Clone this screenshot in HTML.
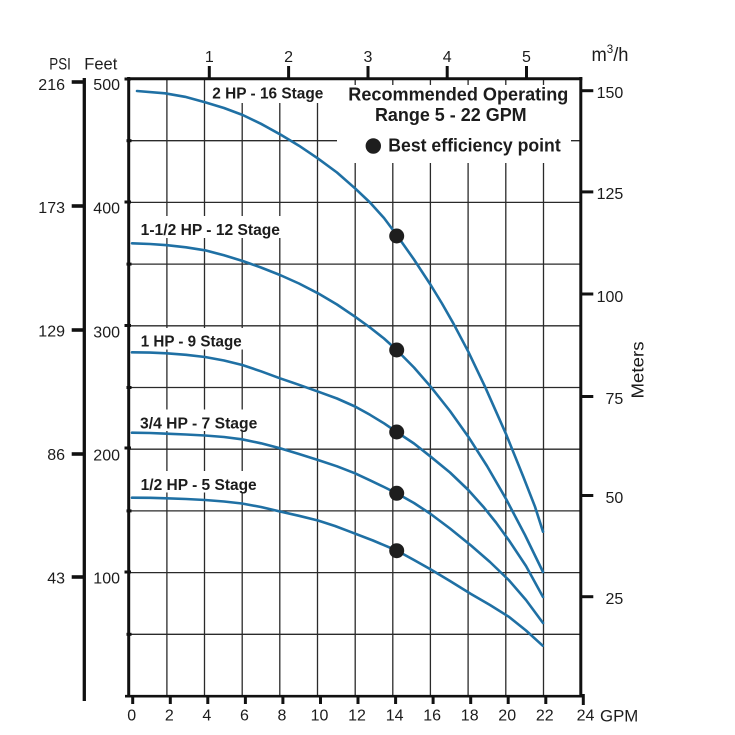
<!DOCTYPE html>
<html>
<head>
<meta charset="utf-8">
<style>
html,body{margin:0;padding:0;background:#fff;}
svg{display:block;}
text{font-family:"Liberation Sans",Arial,sans-serif;fill:#1c1c1c;}
.b{font-weight:bold;}
</style>
</head>
<body>
<svg width="735" height="735" viewBox="0 0 735 735" xmlns="http://www.w3.org/2000/svg">
<rect width="735" height="735" fill="#fff"/>

<!-- grid lines -->
<g stroke="#2a2a2a" stroke-width="1.3" fill="none">
  <!-- vertical -->
  <line x1="166.9" y1="78" x2="166.9" y2="696"/>
  <line x1="204.5" y1="78" x2="204.5" y2="696"/>
  <line x1="242.2" y1="78" x2="242.2" y2="696"/>
  <line x1="279.8" y1="78" x2="279.8" y2="696"/>
  <line x1="317.5" y1="78" x2="317.5" y2="696"/>
  <line x1="355.2" y1="78" x2="355.2" y2="696"/>
  <line x1="392.8" y1="78" x2="392.8" y2="696"/>
  <line x1="430.4" y1="78" x2="430.4" y2="696"/>
  <line x1="468.1" y1="78" x2="468.1" y2="696"/>
  <line x1="505.8" y1="78" x2="505.8" y2="696"/>
  <line x1="543.5" y1="78" x2="543.5" y2="696"/>
  <!-- horizontal -->
  <line x1="129" y1="140.7" x2="581" y2="140.7"/>
  <line x1="129" y1="202.4" x2="581" y2="202.4"/>
  <line x1="129" y1="264.1" x2="581" y2="264.1"/>
  <line x1="129" y1="325.8" x2="581" y2="325.8"/>
  <line x1="129" y1="387.5" x2="581" y2="387.5"/>
  <line x1="129" y1="449.2" x2="581" y2="449.2"/>
  <line x1="129" y1="510.9" x2="581" y2="510.9"/>
  <line x1="129" y1="572.6" x2="581" y2="572.6"/>
  <line x1="129" y1="634.3" x2="581" y2="634.3"/>
</g>

<!-- white boxes behind labels -->
<g fill="#fff">
  <rect x="337" y="85" width="234" height="78"/>
  <rect x="209" y="80" width="117" height="23"/>
  <rect x="138" y="216" width="145" height="22"/>
  <rect x="138" y="328" width="106" height="21.5"/>
  <rect x="138" y="409.5" width="122" height="21.5"/>
  <rect x="138" y="471" width="121" height="21.5"/>
</g>

<!-- axes frame -->
<g stroke="#111" fill="none">
  <line x1="128.7" y1="77" x2="128.7" y2="697.5" stroke-width="3"/>
  <line x1="127" y1="78.7" x2="582.3" y2="78.7" stroke-width="3"/>
  <line x1="580.8" y1="77" x2="580.8" y2="697.5" stroke-width="3"/>
  <line x1="125" y1="696.2" x2="582" y2="696.2" stroke-width="2.6"/>
  <!-- PSI axis line -->
  <line x1="84.3" y1="78" x2="84.3" y2="701" stroke-width="3.3"/>
</g>

<!-- left feet ticks -->
<g stroke="#111" stroke-width="3">
  <line x1="124.5" y1="79" x2="131" y2="79"/>
  <line x1="126.5" y1="140.7" x2="131.5" y2="140.7"/>
  <line x1="124.5" y1="202" x2="131" y2="202"/>
  <line x1="126.5" y1="264.1" x2="131.5" y2="264.1"/>
  <line x1="124.5" y1="325.5" x2="131" y2="325.5"/>
  <line x1="126.5" y1="387.5" x2="131.5" y2="387.5"/>
  <line x1="124.5" y1="448" x2="131" y2="448"/>
  <line x1="126.5" y1="510.9" x2="131.5" y2="510.9"/>
  <line x1="124.5" y1="572" x2="131" y2="572"/>
  <line x1="126.5" y1="634.3" x2="131.5" y2="634.3"/>
</g>

<!-- PSI ticks -->
<g stroke="#111" stroke-width="3.6">
  <line x1="71.7" y1="82" x2="84" y2="82"/>
  <line x1="71.7" y1="206" x2="84" y2="206"/>
  <line x1="71.7" y1="330" x2="84" y2="330"/>
  <line x1="71.7" y1="454" x2="84" y2="454"/>
  <line x1="71.7" y1="577" x2="84" y2="577"/>
</g>

<!-- top ticks m3/h -->
<g stroke="#111" stroke-width="3">
  <line x1="209.3" y1="66" x2="209.3" y2="78"/>
  <line x1="288.6" y1="66" x2="288.6" y2="78"/>
  <line x1="368" y1="66" x2="368" y2="78"/>
  <line x1="447.2" y1="66" x2="447.2" y2="78"/>
  <line x1="526.5" y1="66" x2="526.5" y2="78"/>
</g>

<!-- right meter ticks -->
<g stroke="#111" stroke-width="3">
  <line x1="581" y1="90.7" x2="593.3" y2="90.7"/>
  <line x1="581" y1="191.9" x2="593.3" y2="191.9"/>
  <line x1="581" y1="294" x2="593.3" y2="294"/>
  <line x1="581" y1="396.5" x2="593.3" y2="396.5"/>
  <line x1="581" y1="495.5" x2="593.3" y2="495.5"/>
  <line x1="581" y1="596.7" x2="593.3" y2="596.7"/>
</g>

<!-- bottom ticks -->
<g stroke="#111" stroke-width="3">
  <line x1="132.7" y1="696" x2="132.7" y2="704"/>
  <line x1="170.3" y1="696" x2="170.3" y2="704"/>
  <line x1="207.8" y1="696" x2="207.8" y2="704"/>
  <line x1="245.4" y1="696" x2="245.4" y2="704"/>
  <line x1="282.9" y1="696" x2="282.9" y2="704"/>
  <line x1="320.5" y1="696" x2="320.5" y2="704"/>
  <line x1="358" y1="696" x2="358" y2="704"/>
  <line x1="395.6" y1="696" x2="395.6" y2="704"/>
  <line x1="433.1" y1="696" x2="433.1" y2="704"/>
  <line x1="470.7" y1="696" x2="470.7" y2="704"/>
  <line x1="508.2" y1="696" x2="508.2" y2="704"/>
  <line x1="545.8" y1="696" x2="545.8" y2="704"/>
  <line x1="583.3" y1="694" x2="583.3" y2="705"/>
</g>

<!-- curves -->
<g stroke="#1f70a4" stroke-width="2.6" fill="none" stroke-linejoin="round" stroke-linecap="round">
  <polyline points="137,91 165,93.3 185,96.8 205,102.3 224,108 242.7,115 261,123.8 280,134.3 299,145.7 317.7,158.3 337,172.5 355,188.3 370,202.5 384,218 396.7,235 414,259.5 430.7,285 442,303.5 453.3,323.3 468.3,351.7 485,386.7 505.7,433.3 523.3,476.7 535,506.7 543,531.7"/>
  <polyline points="132,243.3 150,244 167,245.2 186,247.3 205,250.3 224,255.3 242.7,261 261,267.5 280,275 299,283.5 318,293.3 337,304.5 355,316.7 370,327.5 384,338.5 396.7,350 414,367.5 430.7,386.7 450,411 468.3,436.7 487,466 505.7,498.3 525,535 543,572"/>
  <polyline points="132,352.3 150,352.6 166.7,353.3 186,354.8 205,357 224,360.5 242.3,365 261,371.3 280,378.3 299,384.8 318.3,391.7 337,398.5 355,406.5 370,414.8 384,423.3 396.7,432 414,443.5 430.7,456.7 450,472.5 468.3,490 483.3,506.7 496,522.5 508.7,540 526,566 543,597"/>
  <polyline points="132,432.7 150,433 166.7,433.7 186,434.5 205,435.5 224,437 242,439.3 261,443.3 280,448.3 299,454 318,460 337,466.3 355,473.3 370,480.3 384,487 396.7,493.3 414,503 430,513.5 450,528.5 471,545.5 490,562 508.7,580 526,600 543,623"/>
  <polyline points="132,497.7 150,497.8 166.7,498.3 186,499 205,500 224,501.5 242,503.5 261,507 280,511.5 299,515.8 318,520.5 335,526 350,531.7 373,540.5 396.7,550.5 414,560 430,569 450,581 471,594 490,605 508.7,616.7 526,630.5 542.7,645.7"/>
</g>

<!-- best efficiency dots -->
<g fill="#1e1e1e">
  <circle cx="396.7" cy="236" r="7.5"/>
  <circle cx="396.7" cy="350" r="7.5"/>
  <circle cx="396.7" cy="432" r="7.5"/>
  <circle cx="396.7" cy="493.3" r="7.5"/>
  <circle cx="396.7" cy="550.7" r="7.5"/>
  <circle cx="373.3" cy="146" r="7.7"/>
</g>

<!-- axis titles -->
<text x="49.3" y="69.3" font-size="16.5" textLength="21.5" lengthAdjust="spacingAndGlyphs">PSI</text>
<text x="84.3" y="69.3" font-size="16.5" textLength="33" lengthAdjust="spacingAndGlyphs">Feet</text>
<text x="591.5" y="61" font-size="19" textLength="37" lengthAdjust="spacingAndGlyphs">m<tspan dy="-8" font-size="12">3</tspan><tspan dy="8">/h</tspan></text>
<text x="600" y="721.7" font-size="16.5" textLength="38.3" lengthAdjust="spacingAndGlyphs">GPM</text>
<text transform="translate(643.5,370) rotate(-90)" text-anchor="middle" font-size="17.5" textLength="57" lengthAdjust="spacingAndGlyphs">Meters</text>

<!-- PSI labels -->
<g font-size="16" text-anchor="end">
  <text x="65" y="90">216</text>
  <text x="65" y="213">173</text>
  <text x="65" y="336.7">129</text>
  <text x="65" y="460">86</text>
  <text x="65" y="583.3">43</text>
</g>
<!-- Feet labels -->
<g font-size="16" text-anchor="end">
  <text x="120" y="90">500</text>
  <text x="120" y="213.3">400</text>
  <text x="120" y="337.3">300</text>
  <text x="120" y="460.5">200</text>
  <text x="120" y="583.7">100</text>
</g>
<!-- Meter labels -->
<g font-size="16" text-anchor="end">
  <text x="623.3" y="98">150</text>
  <text x="623.3" y="199">125</text>
  <text x="623.3" y="302">100</text>
  <text x="623.3" y="404">75</text>
  <text x="623.3" y="503">50</text>
  <text x="623.3" y="604">25</text>
</g>
<!-- top labels -->
<g font-size="16" text-anchor="middle">
  <text x="209.3" y="62">1</text>
  <text x="288.6" y="62">2</text>
  <text x="368" y="62">3</text>
  <text x="447.2" y="62">4</text>
  <text x="526.5" y="62">5</text>
</g>
<!-- bottom labels -->
<g font-size="16" text-anchor="middle">
  <text x="131.7" y="720.7">0</text>
  <text x="169.3" y="720.7">2</text>
  <text x="206.8" y="720.7">4</text>
  <text x="244.4" y="720.7">6</text>
  <text x="281.9" y="720.7">8</text>
  <text x="319.5" y="720.7">10</text>
  <text x="357" y="720.7">12</text>
  <text x="394.6" y="720.7">14</text>
  <text x="432.1" y="720.7">16</text>
  <text x="469.7" y="720.7">18</text>
  <text x="507.2" y="720.7">20</text>
  <text x="544.8" y="720.7">22</text>
  <text x="585.5" y="720.7">24</text>
</g>

<!-- legend -->
<text class="b" x="458.3" y="100.7" font-size="18" text-anchor="middle" textLength="220" lengthAdjust="spacingAndGlyphs">Recommended Operating</text>
<text class="b" x="450.8" y="121" font-size="18" text-anchor="middle" textLength="151.7" lengthAdjust="spacingAndGlyphs">Range 5 - 22 GPM</text>
<text class="b" x="388.3" y="151.7" font-size="18" textLength="172.4" lengthAdjust="spacingAndGlyphs">Best efficiency point</text>

<!-- curve labels -->
<g class="b" font-size="15.4">
  <text class="b" x="212.3" y="98.3" textLength="111" lengthAdjust="spacingAndGlyphs">2 HP - 16 Stage</text>
  <text class="b" x="140.7" y="235" textLength="139.3" lengthAdjust="spacingAndGlyphs">1-1/2 HP - 12 Stage</text>
  <text class="b" x="140.7" y="346.7" textLength="101" lengthAdjust="spacingAndGlyphs">1 HP - 9 Stage</text>
  <text class="b" x="140" y="428.3" textLength="117.3" lengthAdjust="spacingAndGlyphs">3/4 HP - 7 Stage</text>
  <text class="b" x="140.7" y="490" textLength="116" lengthAdjust="spacingAndGlyphs">1/2 HP - 5 Stage</text>
</g>
</svg>
</body>
</html>
